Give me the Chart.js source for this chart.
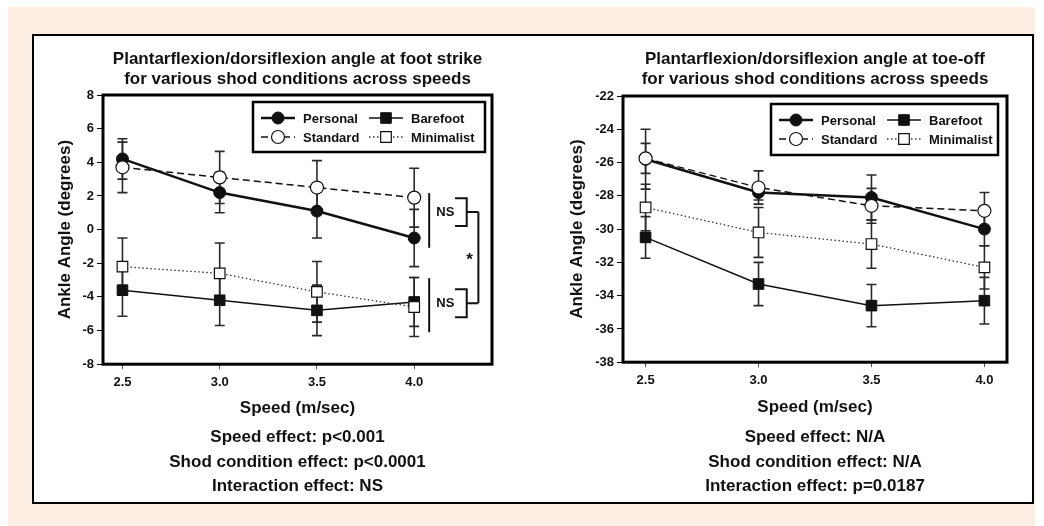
<!DOCTYPE html>
<html>
<head>
<meta charset="utf-8">
<script src="https://cdn.jsdelivr.net/npm/chart.js@4/dist/chart.umd.min.js"></script>
<style>
    body { margin: 0; background: #fff; }
    #peach { position: absolute; left: 8px; top: 7px; width: 1027px; height: 519px; background: #fdeee4; }
    #frame { position: absolute; left: 32px; top: 34px; width: 998px; height: 466px; border: 2px solid #000; background: #fff; }
    .plot { position: absolute; top: 36px; }
</style>
</head>
<body>
<div id="peach"></div>
<div id="frame"></div>
<canvas id="strikeChart" class="plot" width="500" height="466" style="left:34px"></canvas>
<canvas id="toeChart" class="plot" width="498" height="466" style="left:534px"></canvas>
<script>
// speeds (m/sec) on the x axis
const speeds = [2.5, 3.0, 3.5, 4.0];

// foot strike angle (degrees), means and error bars
const strikePersonal = [4.2, 2.2, 1.1, -0.5];
const strikePersonalErr = [1.2, 1.2, 1.6, 1.7];
const strikeStandard = [3.7, 3.1, 2.5, 1.9];
const strikeStandardErr = [1.5, 1.55, 1.6, 1.75];
const strikeBarefoot = [-3.6, -4.2, -4.8, -4.3];
const strikeBarefootErr = [1.55, 1.5, 1.5, 1.45];
const strikeMinimalist = [-2.2, -2.6, -3.7, -4.6];
const strikeMinimalistErr = [1.7, 1.8, 1.8, 1.75];

// toe-off angle (degrees), means and error bars
const toePersonal = [-25.8, -27.8, -28.1, -30.0];
const toePersonalErr = [1.8, 0.45, 1.35, 1.0];
const toeStandard = [-25.75, -27.5, -28.6, -28.9];
const toeStandardErr = [0.9, 1.0, 1.05, 1.1];
const toeBarefoot = [-30.5, -33.3, -34.6, -34.3];
const toeBarefootErr = [1.25, 1.3, 1.27, 1.4];
const toeMinimalist = [-28.7, -30.2, -30.9, -32.3];
const toeMinimalistErr = [1.4, 1.5, 1.45, 1.3];

const strikeTitle = ["Plantarflexion/dorsiflexion angle at foot strike", "for various shod conditions across speeds"];
const strikeStats = ["Speed effect: p<0.001", "Shod condition effect: p<0.0001", "Interaction effect: NS"];
const toeTitle = ["Plantarflexion/dorsiflexion angle at toe-off", "for various shod conditions across speeds"];
const toeStats = ["Speed effect: N/A", "Shod condition effect: N/A", "Interaction effect: p=0.0187"];

const FONT = "'Liberation Sans', Arial, sans-serif";
const INK = "#111";
Chart.defaults.font.family = FONT;
Chart.defaults.font.weight = "bold";
Chart.defaults.color = INK;

function toPoints(values) {
    return speeds.map((s, i) => ({ x: s, y: values[i] }));
}

// the four shod conditions, styled like the original figure
// (open markers sit on top of the filled ones, hence the order values)
function buildDatasets(personal, personalErr, standard, standardErr, barefoot, barefootErr, minimal, minimalErr) {
    return [
        {
            label: "Personal", data: toPoints(personal), errors: personalErr, order: 2,
            borderColor: INK, borderWidth: 2.5,
            pointStyle: "circle", pointRadius: 6, pointBackgroundColor: INK, pointBorderColor: INK, pointBorderWidth: 1,
        },
        {
            label: "Standard", data: toPoints(standard), errors: standardErr, order: 0,
            borderColor: INK, borderWidth: 1.5, borderDash: [7, 4],
            pointStyle: "circle", pointRadius: 6.5, pointBackgroundColor: "#fff", pointBorderColor: INK, pointBorderWidth: 1.2,
        },
        {
            label: "Barefoot", data: toPoints(barefoot), errors: barefootErr, order: 3,
            borderColor: INK, borderWidth: 1.5,
            pointStyle: "rect", pointRadius: 7.5, pointBackgroundColor: INK, pointBorderColor: INK, pointBorderWidth: 1,
        },
        {
            label: "Minimalist", data: toPoints(minimal), errors: minimalErr, order: 1,
            borderColor: "#333", borderWidth: 1.3, borderDash: [1.5, 2.5],
            pointStyle: "rect", pointRadius: 7.5, pointBackgroundColor: "#fff", pointBorderColor: INK, pointBorderWidth: 1.2,
        },
    ];
}

// vertical error bars with caps, drawn under the markers
const errorBars = {
    id: "errorBars",
    beforeDatasetsDraw(chart) {
        const ctx = chart.ctx;
        const yScale = chart.scales.y;
        ctx.save();
        ctx.strokeStyle = "#2a2a2a";
        ctx.lineWidth = 1.6;
        chart.data.datasets.forEach((ds, di) => {
            const meta = chart.getDatasetMeta(di);
            meta.data.forEach((pt, i) => {
                const v = ds.data[i].y;
                const e = ds.errors[i];
                const yTop = yScale.getPixelForValue(v + e);
                const yBot = yScale.getPixelForValue(v - e);
                ctx.beginPath();
                ctx.moveTo(pt.x, yTop);
                ctx.lineTo(pt.x, yBot);
                ctx.moveTo(pt.x - 5, yTop);
                ctx.lineTo(pt.x + 5, yTop);
                ctx.moveTo(pt.x - 5, yBot);
                ctx.lineTo(pt.x + 5, yBot);
                ctx.stroke();
            });
        });
        ctx.restore();
    },
};

// thick box round the plot area
const plotFrame = {
    id: "plotFrame",
    afterDatasetsDraw(chart) {
        const { ctx, chartArea } = chart;
        ctx.save();
        ctx.strokeStyle = "#000";
        ctx.lineWidth = 3;
        ctx.strokeRect(chartArea.left, chartArea.top, chartArea.right - chartArea.left, chartArea.bottom - chartArea.top);
        ctx.restore();
    },
};

// boxed legend in two columns inside the top right corner
const legendOrder = ["Personal", "Barefoot", "Standard", "Minimalist"];
const boxedLegend = {
    id: "boxedLegend",
    afterDraw(chart, args, opts) {
        const { ctx, chartArea } = chart;
        const left = chartArea.right - opts.gapRight - opts.width;
        const top = chartArea.top + opts.gapTop;
        ctx.save();
        ctx.fillStyle = "#fff";
        ctx.fillRect(left, top, opts.width, opts.height);
        ctx.strokeStyle = "#000";
        ctx.lineWidth = 2.5;
        ctx.strokeRect(left, top, opts.width, opts.height);
        ctx.font = "bold 13px " + FONT;
        ctx.textBaseline = "middle";
        legendOrder.forEach((name, k) => {
            const ds = chart.data.datasets.find((d) => d.label === name);
            const col = k % 2;
            const row = Math.floor(k / 2);
            const x0 = left + (col ? 116 : 8);
            const y = top + (row ? 35 : 16);
            ctx.strokeStyle = ds.borderColor;
            ctx.lineWidth = ds.borderWidth;
            ctx.setLineDash(ds.borderDash || []);
            ctx.beginPath();
            ctx.moveTo(x0, y);
            ctx.lineTo(x0 + 34, y);
            ctx.stroke();
            ctx.setLineDash([]);
            ctx.fillStyle = ds.pointBackgroundColor;
            ctx.strokeStyle = ds.pointBorderColor;
            ctx.lineWidth = ds.pointBorderWidth;
            Chart.helpers.drawPoint(ctx, { pointStyle: ds.pointStyle, radius: ds.pointRadius, rotation: 0, borderWidth: ds.pointBorderWidth }, x0 + 17, y);
            ctx.fillStyle = INK;
            ctx.fillText(name, x0 + 42, y + 1);
        });
        ctx.restore();
    },
};

// NS brackets and star on the foot strike panel, placed in data units
const strikeMarks = {
    bar: 4.077, bracketIn: 4.21, bracketOut: 4.27, joinX: 4.33, nsX: 4.16, starX: 4.285, starY: -1.65,
    groups: [
        { barTop: 2.17, barBottom: -1.08, top: 1.87, bottom: 0.21, mid: 1.04 },
        { barTop: -2.89, barBottom: -6.10, top: -3.54, bottom: -5.21, mid: -4.37 },
    ],
};
const significance = {
    id: "significance",
    afterDatasetsDraw(chart) {
        const { ctx } = chart;
        const xs = chart.scales.x;
        const ys = chart.scales.y;
        const X = (v) => xs.getPixelForValue(v);
        const Y = (v) => ys.getPixelForValue(v);
        const m = strikeMarks;
        ctx.save();
        ctx.strokeStyle = INK;
        ctx.fillStyle = INK;
        ctx.textAlign = "center";
        ctx.textBaseline = "middle";
        m.groups.forEach((g) => {
            ctx.lineWidth = 2;
            ctx.beginPath();
            ctx.moveTo(X(m.bar), Y(g.barTop));
            ctx.lineTo(X(m.bar), Y(g.barBottom));
            ctx.stroke();
            ctx.beginPath();
            ctx.moveTo(X(m.bracketIn), Y(g.top));
            ctx.lineTo(X(m.bracketOut), Y(g.top));
            ctx.lineTo(X(m.bracketOut), Y(g.bottom));
            ctx.lineTo(X(m.bracketIn), Y(g.bottom));
            ctx.moveTo(X(m.bracketOut), Y(g.mid));
            ctx.lineTo(X(m.joinX), Y(g.mid));
            ctx.stroke();
            ctx.font = "bold 13px " + FONT;
            ctx.fillText("NS", X(m.nsX), Y(g.mid));
        });
        ctx.beginPath();
        ctx.moveTo(X(m.joinX), Y(m.groups[0].mid));
        ctx.lineTo(X(m.joinX), Y(m.groups[1].mid));
        ctx.stroke();
        ctx.font = "bold 17px " + FONT;
        ctx.fillText("*", X(m.starX), Y(m.starY) + 3);
        ctx.restore();
    },
};

function makeChart(canvasId, datasets, title, stats, lay, extraPlugins) {
    return new Chart(document.getElementById(canvasId), {
        type: "line",
        data: { datasets: datasets },
        plugins: [errorBars, plotFrame, boxedLegend].concat(extraPlugins),
        options: {
            responsive: false,
            animation: false,
            layout: { padding: { left: lay.padLeft, right: lay.padRight, top: 0, bottom: lay.subPadBottom } },
            plugins: {
                legend: { display: false },
                tooltip: { enabled: false },
                // fullSize off so the texts centre over the plot, as in the figure
                title: {
                    display: true, fullSize: false, text: title, color: INK,
                    font: { size: 17, weight: "bold", lineHeight: 1.2 },
                    padding: { top: lay.titlePadTop, bottom: lay.titlePadBottom },
                },
                subtitle: {
                    display: true, fullSize: false, position: "bottom", text: stats, color: INK,
                    font: { size: 17, weight: "bold", lineHeight: 24.6 / 17 },
                    padding: { top: 0, bottom: 0 },
                },
                boxedLegend: lay.legend,
            },
            scales: {
                x: {
                    type: "linear", min: 2.4, max: lay.xMax,
                    afterBuildTicks: (scale) => { scale.ticks = speeds.map((v) => ({ value: v })); },
                    afterFit: (scale) => { scale.height = lay.xHeight; },
                    ticks: { callback: (v) => v.toFixed(1), font: { size: 13, weight: "bold" }, color: INK, padding: 5, maxRotation: 0 },
                    grid: { drawOnChartArea: false, drawTicks: true, tickLength: 5, color: "#555" },
                    border: { display: false },
                    title: { display: true, text: "Speed (m/sec)", color: INK, font: { size: 17, weight: "bold" }, padding: { top: 0, bottom: lay.xTitlePadBottom } },
                },
                y: {
                    min: lay.yMin, max: lay.yMax,
                    afterFit: (scale) => { scale.width = lay.yWidth; },
                    ticks: { stepSize: 2, font: { size: 13, weight: "bold" }, color: INK, padding: 3 },
                    grid: { drawOnChartArea: false, drawTicks: true, tickLength: 6, color: "#000" },
                    border: { display: false },
                    title: { display: true, text: "Ankle Angle (degrees)", color: INK, font: { size: 17, weight: "bold" }, padding: { top: 0, bottom: 0 } },
                },
            },
        },
    });
}

makeChart(
    "strikeChart",
    buildDatasets(strikePersonal, strikePersonalErr, strikeStandard, strikeStandardErr, strikeBarefoot, strikeBarefootErr, strikeMinimalist, strikeMinimalistErr),
    strikeTitle, strikeStats,
    {
        padLeft: 21, padRight: 42, yWidth: 48, xHeight: 61, titlePadTop: 13, titlePadBottom: 5.2,
        xTitlePadBottom: 6.5, subPadBottom: 3, xMax: 4.4, yMin: -8, yMax: 8,
        legend: { width: 232, height: 50, gapRight: 7, gapTop: 7 },
    },
    [significance]
);

makeChart(
    "toeChart",
    buildDatasets(toePersonal, toePersonalErr, toeStandard, toeStandardErr, toeBarefoot, toeBarefootErr, toeMinimalist, toeMinimalistErr),
    toeTitle, toeStats,
    {
        padLeft: 33, padRight: 25, yWidth: 56, xHeight: 63, titlePadTop: 13, titlePadBottom: 6.2,
        xTitlePadBottom: 7.5, subPadBottom: 3, xMax: 4.1, yMin: -38, yMax: -22,
        legend: { width: 227, height: 51, gapRight: 9, gapTop: 8 },
    },
    []
);
</script>
</body>
</html>
